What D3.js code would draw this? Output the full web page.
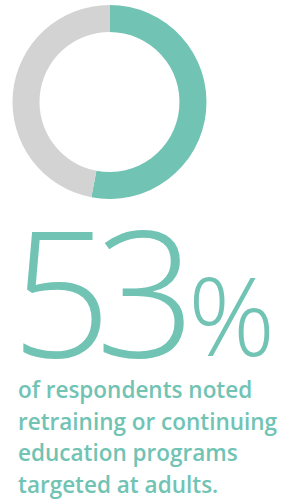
<!DOCTYPE html>
<html lang="en">
<head>
    <meta charset="UTF-8">
    <title>53%</title>
    <style>
        body { margin: 0; background: #fff; overflow: hidden; }
        svg { display: block; }
    </style>
</head>
<body>
    <svg id="chart" width="281" height="501"></svg>
    <script src="https://cdnjs.cloudflare.com/ajax/libs/d3/7.8.5/d3.min.js"></script>
    <script>
        // data
        const categories = ["Noted programs", "Other"];
        const values = [53, 47];
        const colors = ["#71c3b4", "#d3d3d3"];
        const bigLabel = "53";
        const captionLines = [
            "of respondents noted",
            "retraining or continuing",
            "education programs",
            "targeted at adults."
        ];

        const svg = d3.select("#chart");
        const teal = "#71c3b4";

        // donut
        const pie = d3.pie().sort(null).value(d => d);
        const arc = d3.arc().innerRadius(70).outerRadius(97);

        svg.append("g")
            .attr("transform", "translate(109.5,102)")
            .selectAll("path")
            .data(pie(values))
            .join("path")
            .attr("d", arc)
            .attr("fill", (d, i) => colors[i]);

        // big number
        svg.append("text")
            .attr("x", 11)
            .attr("y", 357)
            .attr("fill", teal)
            .attr("letter-spacing", "-16")
            .style("font-family", "'Open Sans', sans-serif")
            .style("font-weight", 300)
            .style("font-size", "176px")
            .text(bigLabel);

        svg.append("text")
            .attr("x", 188)
            .attr("y", 356)
            .attr("fill", teal)
            .style("font-family", "'Open Sans', sans-serif")
            .style("font-weight", 300)
            .style("font-size", "108px")
            .text("%");

        // caption
        svg.append("g")
            .selectAll("text")
            .data(captionLines)
            .join("text")
            .attr("x", 18)
            .attr("y", (d, i) => 398 + i * 31.7)
            .attr("fill", teal)
            .style("font-family", "'Open Sans', sans-serif")
            .style("font-weight", 600)
            .style("font-size", "22.5px")
            .text(d => d);
    </script>
</body>
</html>
